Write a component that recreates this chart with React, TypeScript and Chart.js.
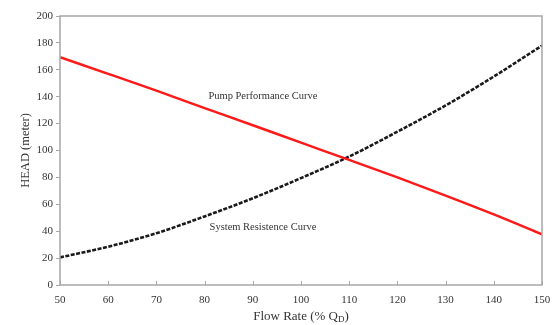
import React, { useEffect, useRef } from "react";
import { Chart, registerables } from "chart.js";

Chart.register(...registerables);

const flowRates = [50, 60, 70, 80, 90, 100, 110, 120, 130, 140, 150];
const pumpHead = [169.3, 157, 144.5, 131.5, 118.8, 105.8, 93, 80, 66.5, 52.5, 37.7];
const systemHead = [20.5, 28.5, 38.5, 51, 64.5, 79.5, 95.5, 114, 133.5, 155, 178];
const yTicks = [0, 20, 40, 60, 80, 100, 120, 140, 160, 180, 200];
const labels = [
  { text: "Pump Performance Curve", x: 92.1, y: 140.7 },
  { text: "System Resistence Curve", x: 92.1, y: 42.6 },
];

const FONT = "'Liberation Serif', 'Times New Roman', serif";
const AXIS = "#a6a6a6";
const TEXT = "#333333";

const decor = {
  id: "decor",
  afterDraw(chart: any) {
    const { ctx, chartArea: a, scales } = chart;
    const xs = scales.x;
    const ys = scales.y;
    ctx.save();
    ctx.strokeStyle = AXIS;
    ctx.lineWidth = 1.5;
    ctx.strokeRect(a.left, a.top, a.right - a.left, a.bottom - a.top);
    ctx.lineWidth = 1;
    for (const v of flowRates) {
      const px = Math.round(xs.getPixelForValue(v)) + 0.5;
      ctx.beginPath();
      ctx.moveTo(px, a.bottom);
      ctx.lineTo(px, a.bottom - 4);
      ctx.stroke();
    }
    ctx.fillStyle = TEXT;
    ctx.font = `10.5px ${FONT}`;
    ctx.textAlign = "center";
    ctx.textBaseline = "middle";
    for (const l of labels) {
      ctx.fillText(l.text, xs.getPixelForValue(l.x), ys.getPixelForValue(l.y));
    }
    const main = "Flow Rate (% Q";
    const sub = "D";
    const end = ")";
    ctx.font = `13px ${FONT}`;
    const w1 = ctx.measureText(main).width;
    const w3 = ctx.measureText(end).width;
    ctx.font = `9px ${FONT}`;
    const w2 = ctx.measureText(sub).width;
    const total = w1 + w2 + w3;
    const cx = (a.left + a.right) / 2;
    let sx = cx - total / 2;
    const ty = 317;
    ctx.textAlign = "left";
    ctx.textBaseline = "middle";
    ctx.font = `13px ${FONT}`;
    ctx.fillText(main, sx, ty);
    sx += w1;
    ctx.font = `9px ${FONT}`;
    ctx.fillText(sub, sx, ty + 3);
    sx += w2;
    ctx.font = `13px ${FONT}`;
    ctx.fillText(end, sx, ty);
    ctx.restore();
  },
};

export default function App() {
  const ref = useRef<HTMLCanvasElement>(null);
  useEffect(() => {
    if (!ref.current) return;
    const chart = new Chart(ref.current, {
      type: "line",
      data: {
        datasets: [
          {
            label: "Pump Performance Curve",
            data: flowRates.map((x, i) => ({ x, y: pumpHead[i] })),
            borderColor: "#ff1a1a",
            borderWidth: 2.5,
            pointRadius: 0,
            cubicInterpolationMode: "monotone",
          },
          {
            label: "System Resistence Curve",
            data: flowRates.map((x, i) => ({ x, y: systemHead[i] })),
            borderColor: "#1a1a1a",
            borderWidth: 2.6,
            borderDash: [4, 1.5],
            pointRadius: 0,
            cubicInterpolationMode: "monotone",
          },
        ],
      },
      plugins: [decor],
      options: {
        animation: false,
        responsive: false,
        layout: { padding: { top: 16, right: 11, left: 0, bottom: 0 } },
        plugins: { legend: { display: false }, tooltip: { enabled: false } },
        scales: {
          x: {
            type: "linear",
            min: 50,
            max: 150,
            afterBuildTicks: (s: any) => {
              s.ticks = flowRates.map((v) => ({ value: v }));
            },
            ticks: { font: { family: FONT, size: 11 }, color: TEXT, padding: 9, maxRotation: 0 },
            grid: { display: false, drawTicks: false },
            border: { display: false },
            afterFit: (s: any) => {
              s.height = 40;
              s.paddingLeft = 0;
              s.paddingRight = 0;
            },
          },
          y: {
            min: 0,
            max: 200,
            afterBuildTicks: (s: any) => {
              s.ticks = yTicks.map((v) => ({ value: v }));
            },
            ticks: { font: { family: FONT, size: 11 }, color: TEXT, padding: 3 },
            grid: { drawOnChartArea: false, tickLength: 4, color: AXIS },
            border: { display: false },
            title: {
              display: true,
              text: "HEAD (meter)",
              font: { family: FONT, size: 12.5 },
              color: TEXT,
              padding: { top: 18, bottom: 0 },
            },
            afterFit: (s: any) => {
              s.width = 60;
              s.paddingTop = 0;
              s.paddingBottom = 0;
            },
          },
        },
      },
    });
    return () => chart.destroy();
  }, []);
  return (
    <div style={{ position: "absolute", left: 0, top: 0, width: 553, height: 325, background: "#fff" }}>
      <canvas ref={ref} width={553} height={325} style={{ display: "block" }} />
    </div>
  );
}
